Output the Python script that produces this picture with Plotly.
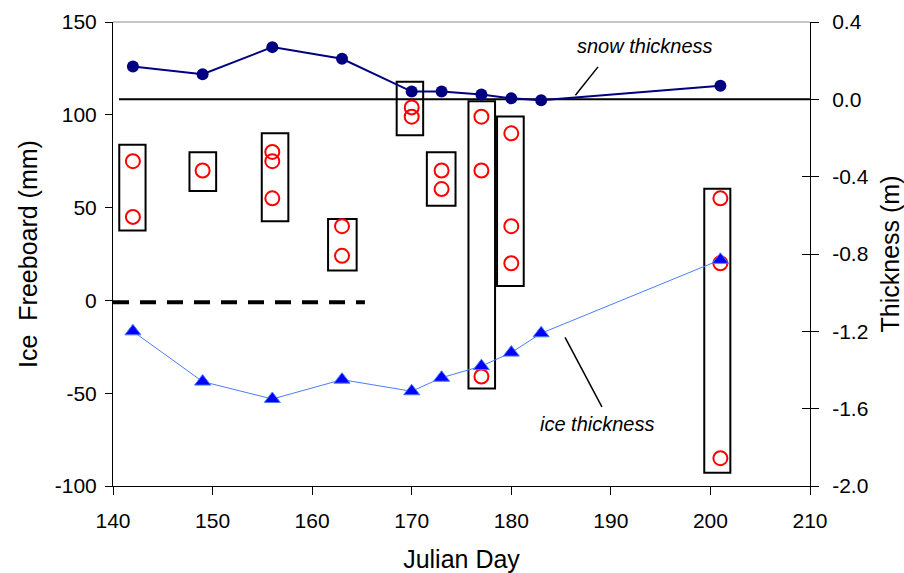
import plotly.graph_objects as go

# ---- data ----
snow_days = [142, 149, 156, 163, 170, 173, 177, 180, 183, 201]
snow_thk = [0.17, 0.13, 0.27, 0.21, 0.04, 0.04, 0.025, 0.005, -0.005, 0.07]
ice_days = [142, 149, 156, 163, 170, 173, 177, 180, 183, 201]
ice_thk = [-1.20, -1.46, -1.55, -1.45, -1.51, -1.44, -1.38, -1.31, -1.21, -0.83]

fb_days = [142, 142, 149, 156, 156, 156, 163, 163, 170, 170, 173, 173,
           177, 177, 177, 180, 180, 180, 201, 201, 201]
fb_mm = [75, 45, 70, 80, 75, 55, 40, 24, 104, 99, 70, 60,
         99, 70, -41, 90, 40, 20, 55, 20, -85]

# range boxes around each day's freeboard measurements
box_x0 = [140.63, 147.68, 154.94, 161.60, 168.49, 171.52, 175.70, 178.57, 199.38]
box_x1 = [143.27, 150.36, 157.61, 164.47, 171.15, 174.40, 178.37, 181.25, 202.00]
box_top = [83.8, 79.8, 90.1, 43.9, 117.8, 79.8, 107.3, 99.1, 60.1]
box_bot = [37.6, 59.0, 42.7, 16.1, 89.0, 51.0, -47.5, 7.8, -92.8]

zero_fb_x = [140, 165.3]
zero_fb_y = [-1, -1]
zero_thk_x = [140.6, 210]
zero_thk_y = [0, 0]

x_ticks = [140, 150, 160, 170, 180, 190, 200, 210]
y_ticks = [-100, -50, 0, 50, 100, 150]
y_labels = ["-100", "-50", "0", "50", "100", "150"]
y2_ticks = [-2.0, -1.6, -1.2, -0.8, -0.4, 0.0, 0.4]
y2_labels = ["-2.0", "-1.6", "-1.2", "-0.8", "-0.4", "0.0", "0.4"]

FONT = "Liberation Sans, Arial, sans-serif"

fig = go.Figure()

fig.add_trace(go.Scatter(
    x=snow_days, y=snow_thk, yaxis="y2", mode="lines+markers",
    line=dict(color="#000080", width=2),
    marker=dict(symbol="circle", size=12, color="#000080"),
    showlegend=False))

fig.add_trace(go.Scatter(
    x=ice_days, y=ice_thk, yaxis="y2", mode="lines+markers",
    line=dict(color="#4a7dff", width=1),
    marker=dict(symbol="triangle-up", size=14, color="#0000ff",
                line=dict(color="#4a7dff", width=1)),
    showlegend=False))

fig.add_trace(go.Scatter(
    x=fb_days, y=fb_mm, mode="markers",
    marker=dict(symbol="circle-open", size=14, color="#ff0000",
                line=dict(color="#ff0000", width=2)),
    showlegend=False))

# dummy trace for the crossing-tick overlay axis
fig.add_trace(go.Scatter(x=[None], y=[None], yaxis="y3", showlegend=False,
                         hoverinfo="skip"))

shapes = []
for x0, x1, t, b in zip(box_x0, box_x1, box_top, box_bot):
    shapes.append(dict(type="rect", xref="x", yref="y", x0=x0, x1=x1, y0=b, y1=t,
                       line=dict(color="black", width=2), layer="below"))

shapes.append(dict(type="line", xref="x", yref="y",
                   x0=zero_fb_x[0], x1=zero_fb_x[1], y0=zero_fb_y[0], y1=zero_fb_y[1],
                   line=dict(color="black", width=4, dash="16px,11px")))
shapes.append(dict(type="line", xref="x", yref="y2",
                   x0=zero_thk_x[0], x1=zero_thk_x[1], y0=zero_thk_y[0], y1=zero_thk_y[1],
                   line=dict(color="black", width=2), layer="below"))
# top frame line
shapes.append(dict(type="line", xref="paper", yref="paper", x0=0, x1=1, y0=1, y1=1,
                   line=dict(color="#8c8c8c", width=1)))
# leader lines
shapes.append(dict(type="line", xref="x", yref="y2", x0=186.44, y0=0.021, x1=188.71, y1=0.168,
                   line=dict(color="black", width=1.5)))
shapes.append(dict(type="line", xref="x", yref="y2", x0=185.4, y0=-1.231, x1=189.1, y1=-1.591,
                   line=dict(color="black", width=1.5)))

annotations = [
    dict(x=193.44, y=0.275, xref="x", yref="y2", text="<i>snow thickness</i>",
         showarrow=False, font=dict(family=FONT, size=20, color="black")),
    dict(x=188.67, y=-1.677, xref="x", yref="y2", text="<i>ice thickness</i>",
         showarrow=False, font=dict(family=FONT, size=20, color="black")),
]

fig.update_layout(
    width=904, height=573,
    margin=dict(l=113, r=94, t=22, b=87, autoexpand=False),
    paper_bgcolor="white", plot_bgcolor="white",
    font=dict(family=FONT, size=21, color="black"),
    shapes=shapes, annotations=annotations,
    xaxis=dict(range=[140, 210], tickvals=x_ticks, showgrid=False, zeroline=False,
               showline=True, linecolor="black", linewidth=1, automargin=False,
               ticks="outside", ticklen=8, tickcolor="black",
               ticklabelstandoff=8,
               title=dict(text="Julian Day", standoff=23)),
    yaxis=dict(range=[-100, 150], tickvals=y_ticks, ticktext=y_labels,
               showgrid=False, zeroline=False, automargin=False,
               showline=True, linecolor="black", linewidth=1,
               ticks="outside", ticklen=7, tickcolor="black",
               ticklabelstandoff=4,
               title=dict(text="Ice\u00a0 Freeboard (mm)", standoff=10)),
    yaxis2=dict(range=[-2.0, 0.4], tickvals=y2_ticks, ticktext=y2_labels,
                overlaying="y", side="right", anchor="x", automargin=False,
                showgrid=False, zeroline=False,
                showline=True, linecolor="black", linewidth=1,
                ticks="outside", ticklen=8, tickcolor="black",
                ticklabelstandoff=9,
                title=dict(text="Thickness (m)", standoff=20)),
    yaxis3=dict(range=[-2.0, 0.4], tickvals=y2_ticks, overlaying="y", side="right",
                anchor="x", showgrid=False, zeroline=False, showline=False,
                automargin=False,
                ticks="inside", ticklen=8, tickcolor="black", showticklabels=False),
)

fig.write_html("out.html")
